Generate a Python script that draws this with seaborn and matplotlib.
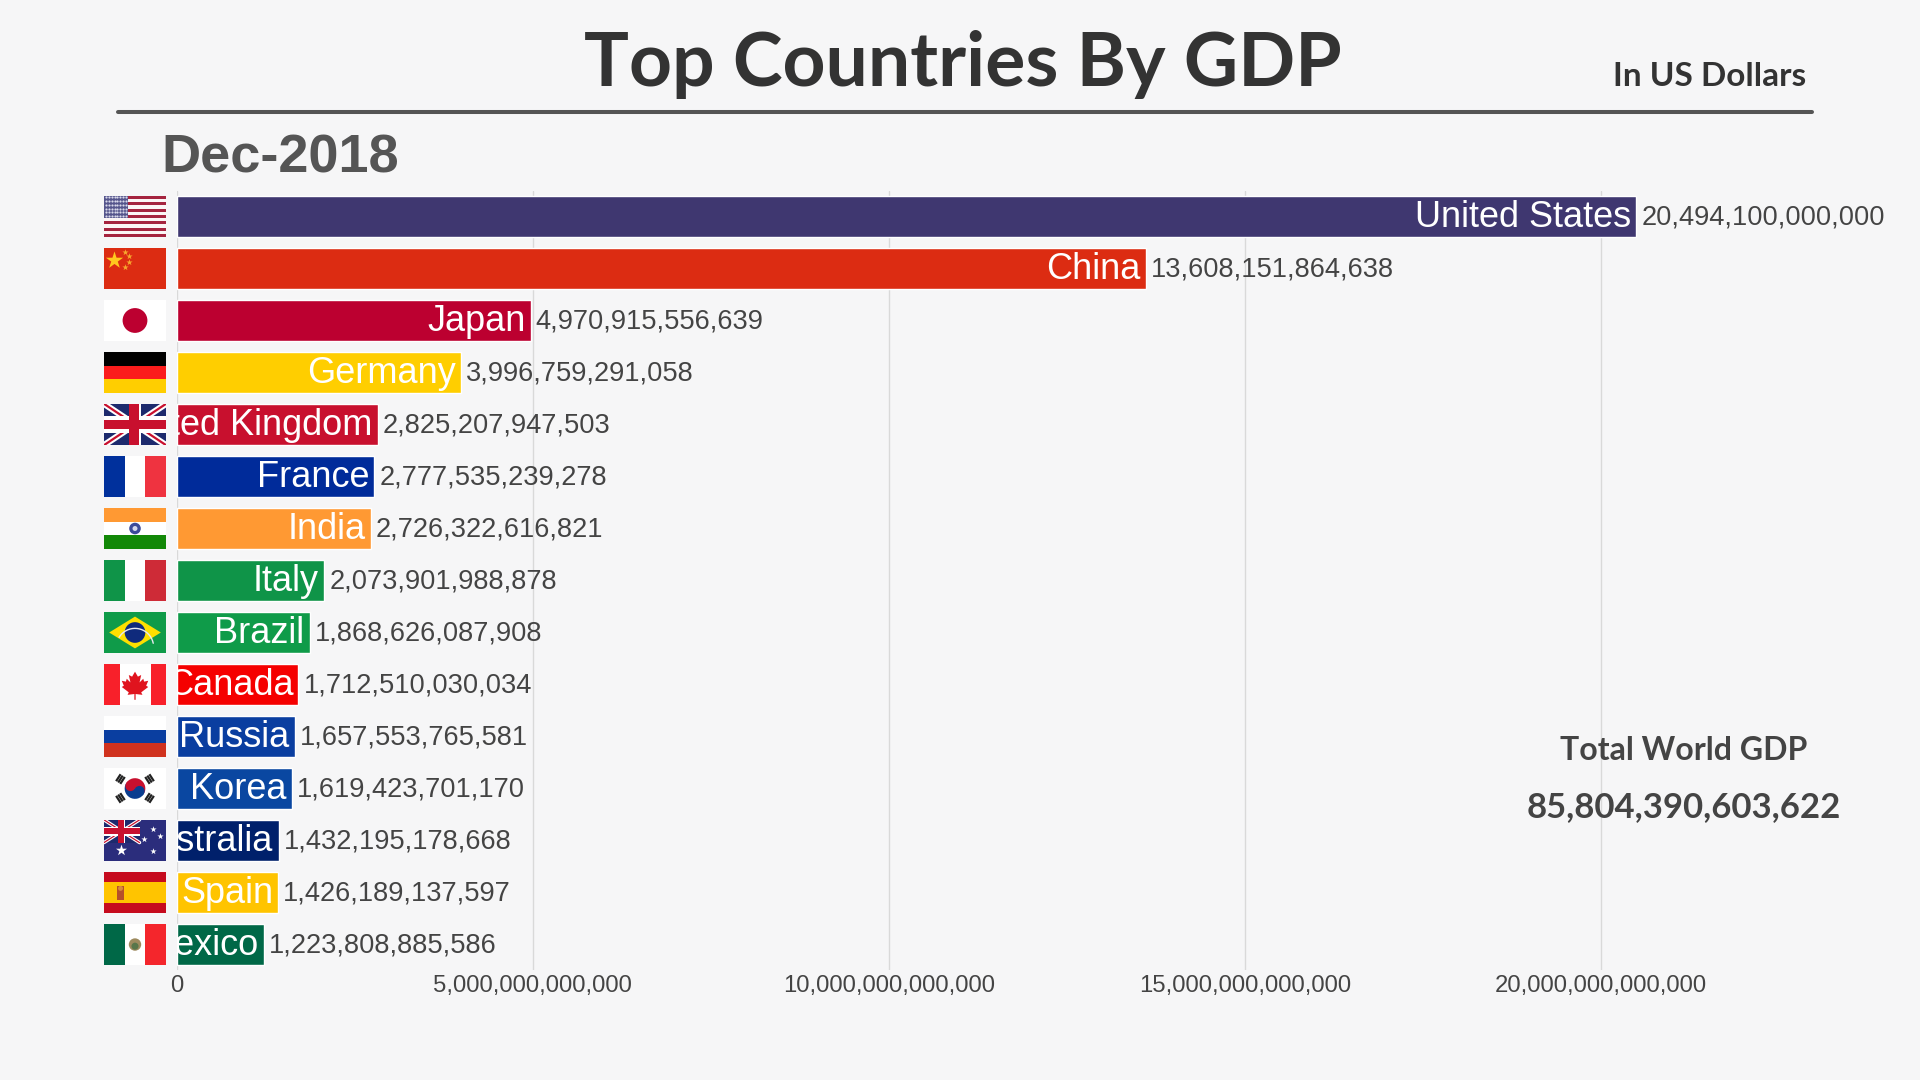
import numpy as np
import pandas as pd
import matplotlib.pyplot as plt
import seaborn as sns
from matplotlib.patches import Circle, Polygon, Rectangle, Wedge
from matplotlib.lines import Line2D

countries = ['United States', 'China', 'Japan', 'Germany', 'United Kingdom', 'France', 'India', 'Italy',
             'Brazil', 'Canada', 'Russia', 'Korea', 'Australia', 'Spain', 'Mexico']
gdp = [20494100000000, 13608151864638, 4970915556639, 3996759291058, 2825207947503, 2777535239278,
       2726322616821, 2073901988878, 1868626087908, 1712510030034, 1657553765581, 1619423701170,
       1432195178668, 1426189137597, 1223808885586]
bar_colors = ['#3f3770', '#dc2c12', '#bc0030', '#ffce00', '#c8102e', '#002b9a', '#ff9933', '#0f9448',
              '#0f9b49', '#f50000', '#0a3ea0', '#0a47a1', '#00206b', '#ffc400', '#006847']
x_ticks = [0, 5000000000000, 10000000000000, 15000000000000, 20000000000000]
title = 'Top Countries By GDP'
subtitle = 'In US Dollars'
date_label = 'Dec-2018'
total_label = 'Total World GDP'
total_value = '85,804,390,603,622'

BG = '#f6f6f7'
W, H = 1920, 1080

sns.set_theme(style='white')
plt.rcParams['font.family'] = ['Liberation Sans', 'DejaVu Sans']


def bands(a, colors, vertical=False):
    n = len(colors)
    for k, c in enumerate(colors):
        if vertical:
            a.add_patch(Rectangle((3 * k / n, 0), 3 / n, 2, color=c, lw=0))
        else:
            a.add_patch(Rectangle((0, 2 - 2 * (k + 1) / n), 3, 2 / n, color=c, lw=0))


def diag(a, p, q, color, lw):
    a.add_line(Line2D([p[0], q[0]], [p[1], q[1]], color=color, lw=lw, solid_capstyle='butt'))


def union_jack(a, w, h, y0, scale=1.0):
    # w, h is the size of the jack, y0 its lower edge
    a.add_patch(Rectangle((0, y0), w, h, color='#1d2a6d', lw=0, zorder=3))
    for p, q in [((0, y0), (w, y0 + h)), ((0, y0 + h), (w, y0))]:
        l1 = Line2D([p[0], q[0]], [p[1], q[1]], color='white', lw=4.5 * scale, zorder=3)
        l2 = Line2D([p[0], q[0]], [p[1], q[1]], color='#c8102e', lw=1.6 * scale, zorder=3)
        a.add_line(l1)
        a.add_line(l2)
    a.add_patch(Rectangle((w / 2 - 0.2 * w / 3 * 1.5, y0), 0.2 * w, h, color='white', lw=0, zorder=3))
    a.add_patch(Rectangle((0, y0 + h / 2 - 0.15 * h * 1.3), w, 0.39 * h, color='white', lw=0, zorder=3))
    a.add_patch(Rectangle((w / 2 - 0.1 * w * 1.0, y0), 0.16 * w, h, color='#c8102e', lw=0, zorder=3))
    a.add_patch(Rectangle((0, y0 + h / 2 - 0.12 * h), w, 0.24 * h, color='#c8102e', lw=0, zorder=3))


def flag_us(a):
    bands(a, ['#a5243f' if k % 2 == 0 else '#fbf5f5' for k in range(13)])
    a.add_patch(Rectangle((0, 2 * 6 / 13), 1.16, 2 * 7 / 13, color='#55558c', lw=0, zorder=3))
    xs, ys = np.meshgrid(np.linspace(0.1, 1.06, 8), np.linspace(1.02, 1.92, 6))
    a.scatter(xs.ravel(), ys.ravel(), s=2.5, color='#d8d8ea', lw=0, zorder=4)


def flag_cn(a):
    bands(a, ['#dc2c12'])
    a.scatter([0.5], [1.42], marker='*', s=170, color='#ffc81e', lw=0, zorder=3)
    a.scatter([1.0, 1.22, 1.22, 1.0], [1.8, 1.58, 1.32, 1.08], marker='*', s=22, color='#f7a92e', lw=0, zorder=3)


def flag_jp(a):
    bands(a, ['#ffffff'])
    a.add_patch(Circle((1.5, 1), 0.6, color='#bc0030', lw=0))


def flag_de(a):
    bands(a, ['#000000', '#fb1c1c', '#ffce00'])


def flag_uk(a):
    union_jack(a, 3, 2, 0, 1.0)


def flag_fr(a):
    bands(a, ['#00309c', '#ffffff', '#ef3340'], vertical=True)


def flag_in(a):
    bands(a, ['#ff9933', '#ffffff', '#128807'])
    a.add_patch(Circle((1.5, 1), 0.28, color='#3c4a9a', lw=0))
    a.add_patch(Circle((1.5, 1), 0.12, color='#d4d8ee', lw=0))


def flag_it(a):
    bands(a, ['#0f9448', '#ffffff', '#ce2b37'], vertical=True)


def flag_br(a):
    bands(a, ['#0f9b49'])
    a.add_patch(Polygon([(0.25, 1), (1.5, 1.77), (2.75, 1), (1.5, 0.23)], color='#fedf00', lw=0))
    a.add_patch(Circle((1.5, 1), 0.5, color='#0f2a7c', lw=0))
    t = np.linspace(0.2, 2.6, 20)
    a.plot(1.5 + 0.9 * np.cos(t) - 0.0, 0.3 + 0.9 * np.sin(t), color='#e8e8f0', lw=1.0, zorder=3, clip_on=True)
    a.add_patch(Circle((1.5, 1), 0.5, fill=False, color='#0f2a7c', lw=0))


def flag_ca(a):
    bands(a, ['#f8202a'])
    a.add_patch(Rectangle((0.75, 0), 1.5, 2, color='#ffffff', lw=0))
    leaf = [(1.5, 1.62), (1.36, 1.38), (1.2, 1.46), (1.28, 1.1), (1.1, 1.28), (1.06, 1.14), (0.86, 1.18),
            (0.96, 0.94), (0.86, 0.88), (1.2, 0.62), (1.14, 0.5), (1.47, 0.54), (1.47, 0.26), (1.53, 0.26),
            (1.53, 0.54), (1.86, 0.5), (1.8, 0.62), (2.14, 0.88), (2.04, 0.94), (2.14, 1.18), (1.94, 1.14),
            (1.9, 1.28), (1.72, 1.1), (1.8, 1.46), (1.64, 1.38)]
    a.add_patch(Polygon(leaf, color='#e0141e', lw=0))


def flag_ru(a):
    bands(a, ['#ffffff', '#0a3ea0', '#d0321e'])


def flag_kr(a):
    bands(a, ['#ffffff'])
    a.add_patch(Wedge((1.5, 1), 0.5, -30, 150, color='#c8102e', lw=0))
    a.add_patch(Wedge((1.5, 1), 0.5, 150, 330, color='#0a3d8f', lw=0))
    off = 0.25 * np.array([np.cos(np.radians(150)), np.sin(np.radians(150))])
    a.add_patch(Circle((1.5 + off[0], 1 + off[1]), 0.25, color='#c8102e', lw=0))
    a.add_patch(Circle((1.5 - off[0], 1 - off[1]), 0.25, color='#0a3d8f', lw=0))
    for ang in [33, 147, 213, 327]:
        rad = np.radians(ang)
        d = np.array([np.cos(rad), np.sin(rad)])
        n = np.array([-d[1], d[0]])
        for r in [0.72, 0.84, 0.96]:
            c = np.array([1.5, 1]) + d * r
            a.plot([c[0] - n[0] * 0.2, c[0] + n[0] * 0.2], [c[1] - n[1] * 0.2, c[1] + n[1] * 0.2],
                   color='#222222', lw=1.6, solid_capstyle='butt')


def flag_au(a):
    bands(a, ['#2b2d7c'])
    union_jack(a, 1.72, 1.1, 0.9, 0.55)
    a.scatter([0.8], [0.52], marker='*', s=70, color='white', lw=0, zorder=4)
    a.scatter([2.35, 1.95, 2.7, 2.35], [1.55, 1.08, 1.2, 0.5], marker='*', s=22, color='white', lw=0, zorder=4)


def flag_es(a):
    bands(a, ['#c60b1e', '#ffc400', '#ffc400', '#c60b1e'])
    a.add_patch(Rectangle((0.62, 0.66), 0.36, 0.66, color='#b5502a', lw=0))
    a.add_patch(Circle((0.8, 1.2), 0.12, color='#d98a3c', lw=0))


def flag_mx(a):
    bands(a, ['#006847', '#ffffff', '#f4262c'], vertical=True)
    a.add_patch(Circle((1.5, 1), 0.3, color='#9d8a5e', lw=0))
    a.add_patch(Circle((1.5, 0.92), 0.17, color='#58764a', lw=0))


flag_fns = [flag_us, flag_cn, flag_jp, flag_de, flag_uk, flag_fr, flag_in, flag_it,
            flag_br, flag_ca, flag_ru, flag_kr, flag_au, flag_es, flag_mx]

df = pd.DataFrame({'country': countries, 'gdp': gdp})

fig = plt.figure(figsize=(W / 100, H / 100), dpi=100, facecolor=BG)
ax = fig.add_axes([176.5 / W, 1 - 970 / H, (1900 - 176.5) / W, (970 - 191) / H])
ax.patch.set_alpha(0)

sns.barplot(data=df, x='gdp', y='country', hue='country', palette=dict(zip(countries, bar_colors)),
            width=0.795, saturation=1, legend=False, dodge=False, ax=ax, zorder=3)

ax.set_xlim(0, (1900 - 176.5) / 71.24 * 1e12)
ax.set_ylim(14.49, -0.49)
ax.set_xticks(x_ticks)
ax.set_xticklabels([f'{t:,}' for t in x_ticks], fontsize=17.2, color='#444444')
ax.tick_params(axis='x', length=0, pad=3.5)
ax.tick_params(axis='y', length=0, labelleft=False)
ax.set_xlabel('')
ax.set_ylabel('')
ax.grid(axis='x', color='#d9d9d9', lw=1)
ax.set_axisbelow(True)
sns.despine(ax=ax, left=True, bottom=True, top=True, right=True)

for i, (name, v) in enumerate(zip(countries, gdp)):
    ax.annotate(name, (v, i), xytext=(-5, -1), textcoords='offset pixels', ha='right', va='center',
                fontsize=26, color='white', clip_on=True, zorder=5, annotation_clip=False)
    ax.annotate(f'{v:,}', (v, i), xytext=(5, -1), textcoords='offset pixels', ha='left', va='center',
                fontsize=19.6, color='#444444', zorder=5)

# flags sit to the left of the bars, same height
to_fig = fig.transFigure.inverted()
for i, fn in enumerate(flag_fns):
    h = 0.795 / 2
    _, y_low = to_fig.transform(ax.transData.transform((0, i + h)))
    _, y_high = to_fig.transform(ax.transData.transform((0, i - h)))
    fa = fig.add_axes([104 / W, y_low, 62 / W, y_high - y_low])
    fa.set_xlim(0, 3)
    fa.set_ylim(0, 2)
    fa.axis('off')
    fn(fa)

fig.text(962.5 / W, 1 - 86 / H, title, family='Lato', weight='bold', fontsize=54, color='#333333',
         ha='center', va='baseline')
fig.text(1806 / W, 1 - 86 / H, subtitle, family='Lato', weight='bold', fontsize=24, color='#333333',
         ha='right', va='baseline')
fig.text(161 / W, 1 - 172.7 / H, date_label, weight='bold', fontsize=39, color='#555555',
         ha='left', va='baseline')
fig.text(1684 / W, 1 - 760 / H, total_label, family='Lato', weight='bold', fontsize=23, color='#444444',
         ha='center', va='baseline')
fig.text(1684 / W, 1 - 817 / H, total_value, family='Lato', weight='bold', fontsize=25, color='#444444',
         ha='center', va='baseline')
fig.add_artist(Line2D([118 / W, 1812 / W], [1 - 112 / H, 1 - 112 / H], color='#555555', lw=2.9))

fig.savefig('out.png', dpi=100, facecolor=BG)
